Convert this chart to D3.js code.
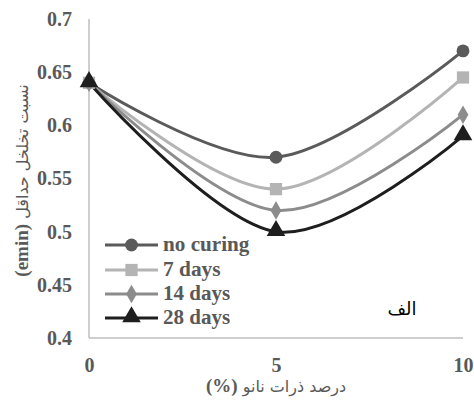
<!DOCTYPE html>
<html><head><meta charset="utf-8">
<script src="https://cdn.jsdelivr.net/npm/d3@7"></script>
<style>body{margin:0;background:#fff}</style>
</head><body>
<svg id="c" width="474" height="403"></svg>
<script>
const xValues = [0, 5, 10];
const seriesNames = ["no curing", "7 days", "14 days", "28 days"];
const noCuring = [0.64, 0.57, 0.67];
const days7 = [0.64, 0.54, 0.645];
const days14 = [0.64, 0.52, 0.61];
const days28 = [0.64, 0.50, 0.59];
const yTicks = [0.4, 0.45, 0.5, 0.55, 0.6, 0.65, 0.7];
const xTicks = [0, 5, 10];

const seriesValues = [noCuring, days7, days14, days28];
const colors = ["#5a5a5a", "#b4b4b4", "#8c8c8c", "#1e1e1e"];
const symbols = [d3.symbolCircle, d3.symbolSquare, d3.symbolDiamond, d3.symbolTriangle];
const symSizes = [130, 150, 100, 150];

const svg = d3.select("#c");
const x = d3.scaleLinear().domain([0, 10]).range([89, 463]);
const y = d3.scaleLinear().domain([0.4, 0.7]).range([338, 19]);
const font = "'Liberation Serif','Times New Roman',serif";

// axes lines
svg.append("line").attr("x1", x(0)).attr("x2", x(0)).attr("y1", y(0.7)).attr("y2", y(0.4))
  .attr("stroke", "#bfbfbf").attr("stroke-width", 1.5);
svg.append("line").attr("x1", x(0)).attr("x2", x(10)).attr("y1", y(0.4)).attr("y2", y(0.4))
  .attr("stroke", "#bfbfbf").attr("stroke-width", 1.5);

const yAxis = d3.axisLeft(y).tickValues(yTicks).tickSize(0).tickPadding(17).tickFormat(d3.format("~g"));
const gy = svg.append("g").attr("transform", `translate(${x(0)},0)`).call(yAxis);
gy.select(".domain").remove();
gy.selectAll("text").attr("font-family", font).attr("font-weight", "bold").attr("font-size", 20).attr("fill", "#595959");

const xAxis = d3.axisBottom(x).tickValues(xTicks).tickSize(0).tickPadding(20).tickFormat(d3.format("d"));
const gx = svg.append("g").attr("transform", `translate(0,${y(0.4)})`).call(xAxis);
gx.select(".domain").remove();
gx.selectAll("text").attr("font-family", font).attr("font-weight", "bold").attr("font-size", 20).attr("fill", "#595959");

// lines
const line = d3.line().x((d, i) => x(xValues[i])).y(d => y(d)).curve(d3.curveCatmullRom.alpha(0));
seriesValues.forEach((vals, si) => {
  svg.append("path").datum(vals).attr("d", line).attr("fill", "none")
    .attr("stroke", colors[si]).attr("stroke-width", 3);
});
seriesValues.forEach((vals, si) => {
  svg.selectAll(null).data(vals).enter().append("path")
    .attr("d", d3.symbol().type(symbols[si]).size(symSizes[si]))
    .attr("transform", (d, i) => `translate(${x(xValues[i])},${y(d) + (si === 3 ? -1 : 0)})`)
    .attr("fill", colors[si]);
});

// legend
const legY = [245, 270, 294, 318];
seriesNames.forEach((name, si) => {
  const g = svg.append("g").attr("transform", `translate(0,${legY[si]})`);
  g.append("line").attr("x1", 105).attr("x2", 158).attr("y1", 0).attr("y2", 0)
    .attr("stroke", colors[si]).attr("stroke-width", 3);
  g.append("path").attr("d", d3.symbol().type(symbols[si]).size(symSizes[si]))
    .attr("transform", `translate(131.5,${si === 3 ? -1 : 0})`).attr("fill", colors[si]);
  g.append("text").attr("x", 163).attr("y", 6).text(name)
    .attr("font-family", font).attr("font-weight", "bold").attr("font-size", 20)
    .attr("textLength", name.length * 9.6).attr("lengthAdjust", "spacingAndGlyphs")
    .attr("fill", "#595959");
});

// label
svg.append("text").attr("x", 402).attr("y", 315).attr("text-anchor", "middle").text("الف")
  .attr("font-family", "'DejaVu Sans',sans-serif").attr("font-size", 18).attr("fill", "#000");

// titles
const xt = svg.append("text").attr("x", x(5)).attr("y", 392).attr("text-anchor", "middle")
  .attr("font-family", "'DejaVu Sans',sans-serif").attr("font-size", 16).attr("fill", "#595959")
  .attr("direction", "rtl");
xt.append("tspan").text("درصد ذرات نانو ");
xt.append("tspan").attr("font-family", font).attr("font-weight", "bold").attr("font-size", 19).text("(%)");

const yt = svg.append("text").attr("transform", `translate(28,${(y(0.4) + y(0.7)) / 2 + 2}) rotate(-90)`)
  .attr("text-anchor", "middle")
  .attr("font-family", "'DejaVu Sans',sans-serif").attr("font-size", 16).attr("fill", "#595959")
  .attr("direction", "rtl");
yt.append("tspan").text("نسبت تخلخل حداقل ");
yt.append("tspan").attr("font-family", font).attr("font-weight", "bold").attr("font-size", 19).text("(emin)");
</script>
</body></html>
